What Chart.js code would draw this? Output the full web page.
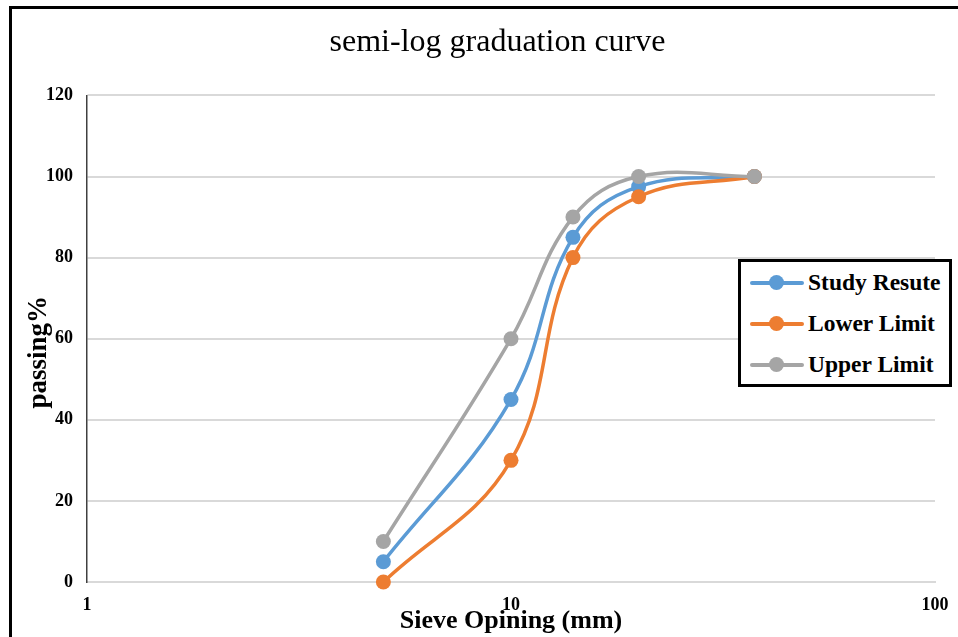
<!DOCTYPE html>
<html>
<head>
<meta charset="utf-8">
<script src="https://cdn.jsdelivr.net/npm/chart.js@4"></script>
<style>
  body { margin: 0; background: #fff; overflow: hidden; }
  #wrap { position: relative; width: 958px; height: 637px; overflow: hidden; }
  #frame { position: absolute; left: 9px; top: 6px; width: 1000px; height: 700px; border: 3px solid #000; }
  canvas { position: absolute; left: 0; top: 0; }
  #legend { position: absolute; left: 738px; top: 259px; width: 208px; height: 122px;
            border: 3px solid #000; background: #fff; box-sizing: content-box; }
  .item { height: 41px; position: relative; font: bold 23.5px "Liberation Serif", serif; color: #000; }
  .item .ln { position: absolute; left: 9px; top: 19px; width: 54px; height: 4px; border-radius: 2px; }
  .item .dot { position: absolute; left: 28px; top: 13px; width: 15px; height: 15px; border-radius: 50%; }
  .item .tx { position: absolute; left: 67px; top: 0; line-height: 41px; white-space: nowrap; }
</style>
</head>
<body>
<div id="wrap">
  <div id="frame"></div>
  <canvas id="chart" width="992" height="637"></canvas>
  <div id="legend"></div>
</div>
<script>
// sieve sizes (mm) and % passing
const sieveSizes = [5, 10, 14, 20, 37.5];
const studyResult = [5, 45, 85, 97.5, 100];
const lowerLimit = [0, 30, 80, 95, 100];
const upperLimit = [10, 60, 90, 100, 100];
const xTicks = [1, 10, 100];

const seriesNames = ["Study Resute", "Lower Limit", "Upper Limit"];
const seriesColors = ["#5B9BD5", "#ED7D31", "#A5A5A5"];
const seriesValues = [studyResult, lowerLimit, upperLimit];

const serif = "'Liberation Serif', 'Times New Roman', serif";

const datasets = seriesValues.map((vals, i) => ({
  label: seriesNames[i],
  data: vals.map((v, j) => ({ x: sieveSizes[j], y: v })),
  borderColor: seriesColors[i],
  backgroundColor: seriesColors[i],
  borderWidth: 3.5,
  pointRadius: 7.5,
  pointHoverRadius: 7.5,
  pointBorderWidth: 0,
  tension: 0.4,
  fill: false,
  clip: false,
  order: seriesValues.length - i   // later series on top, like excel
}));

const ctx = document.getElementById("chart").getContext("2d");

new Chart(ctx, {
  type: "line",
  data: { datasets: datasets },
  options: {
    responsive: false,
    animation: false,
    layout: { padding: { left: 20, right: 57, top: 0, bottom: 0 } },
    plugins: {
      legend: { display: false },
      tooltip: { enabled: false },
      title: {
        display: true,
        // leading spaces nudge the centred title to the right
        text: "     semi-log graduation curve",
        color: "#000",
        font: { family: serif, size: 32, weight: "normal" },
        padding: { top: 23, bottom: 34 }
      }
    },
    scales: {
      x: {
        type: "logarithmic",
        min: 1,
        max: 100,
        afterBuildTicks: (scale) => { scale.ticks = xTicks.map(v => ({ value: v })); },
        afterFit: (scale) => { scale.height = 55; },
        grid: { display: false, drawTicks: false },
        border: { display: true, color: "#D9D9D9", width: 2 },
        ticks: {
          color: "#000",
          padding: 13,
          maxRotation: 0,
          font: { family: serif, size: 18, weight: "bold" },
          callback: (v) => String(v)
        },
        title: {
          display: true,
          text: "Sieve Opining (mm)",
          color: "#000",
          font: { family: serif, size: 26, weight: "bold" },
          padding: { top: 0, bottom: 0 }
        }
      },
      y: {
        min: 0,
        max: 120,
        afterFit: (scale) => { scale.width = 67; },
        ticks: {
          stepSize: 20,
          color: "#000",
          padding: 14,
          font: { family: serif, size: 18, weight: "bold" }
        },
        grid: { color: "#D9D9D9", lineWidth: 2, drawTicks: false },
        border: { display: true, color: "#404040", width: 1.5 },
        title: {
          display: true,
          text: "passing%    ",
          color: "#000",
          font: { family: serif, size: 27, weight: "bold" },
          padding: { top: 3, bottom: 0 }
        }
      }
    }
  }
});

// legend box
const legend = document.getElementById("legend");
seriesNames.forEach((name, i) => {
  const row = document.createElement("div");
  row.className = "item";
  row.innerHTML = '<span class="ln" style="background:' + seriesColors[i] + '"></span>' +
                  '<span class="dot" style="background:' + seriesColors[i] + '"></span>' +
                  '<span class="tx">' + name + '</span>';
  legend.appendChild(row);
});
</script>
</body>
</html>
